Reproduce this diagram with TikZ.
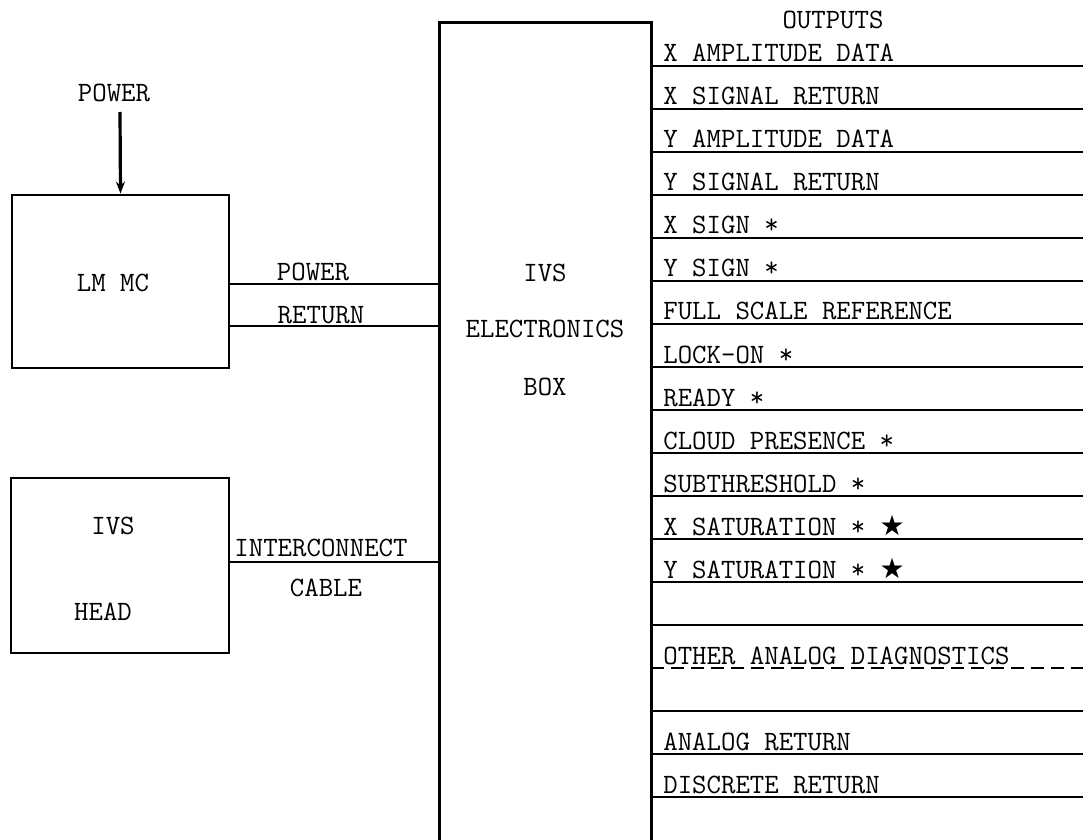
\documentclass[tikz,border=0pt]{standalone}
\usepackage{fontspec}
\newfontfamily\starfont{DejaVu Sans}
\usetikzlibrary{arrows.meta}
\tikzset{
  blk/.style={draw,line width=1.4pt,inner sep=0pt},
  txt/.style={inner sep=0pt,font=\ttfamily\fontsize{14}{16}\selectfont},
  sig/.style={txt,anchor=base west},
  wire/.style={line width=1pt},
  arr/.style={line width=1.6pt,-{Stealth[length=6pt,width=4.5pt]}}
}
\begin{document}
\begin{tikzpicture}[x=0.5pt,y=-0.5pt]
  \useasboundingbox (0,0) rectangle (1083,840);
  % boxes
  \node[blk,minimum width=108.5pt,minimum height=86.5pt] (lmmc) at (120.5,281.5) {};
  \node[blk,minimum width=109pt,minimum height=87.5pt] (head) at (120,565.5) {};
  \node[inner sep=0pt,minimum width=105.5pt,minimum height=408.5pt] (ebox) at (545.5,431.5) {};
  \draw[line width=1.4pt] (ebox.south west) |- (ebox.north east) -- (ebox.south east);
  \node[txt] (lmmctxt) at (113,283) {LM MC};
  \node[txt] (headtop) at (113,526) {IVS};
  \node[txt] (headbot) at (103,612) {HEAD};
  \node[txt] (eboxa) at (545,273) {IVS};
  \node[txt] (eboxb) at (545,329) {ELECTRONICS};
  \node[txt] (eboxc) at (545,387) {BOX};
  % power in
  \node[txt] (pwrtxt) at (114,93) {POWER};
  \coordinate (pwrtop) at (120,112);
  \draw[arr] (pwrtop) -- (lmmc.north);
  % left connections
  \coordinate (pwrin) at (440,284);
  \coordinate (retin) at (440,326);
  \coordinate (cblin) at (440,562);
  \draw[wire] (lmmc.east |- pwrin) -- (pwrin);
  \draw[wire] (lmmc.east |- retin) -- (retin);
  \draw[wire] (head.east |- cblin) -- (cblin);
  \node[txt] (pwrlbl) at (313,272) {POWER};
  \node[txt] (retlbl) at (321,315) {RETURN};
  \node[txt] (cbla) at (321,548) {INTERCONNECT};
  \node[txt] (cblb) at (326,588) {CABLE};
  % outputs
  \node[txt] (outtxt) at (833,20) {OUTPUTS};
  \foreach \k in {0,...,17}{
    \coordinate (r\k) at (1083,66+43*\k);
  }
  \foreach \k in {0,...,13,15,16,17}{
    \draw[wire] (ebox.east |- r\k) -- (r\k);
  }
  \draw[wire,dash pattern=on 6.5pt off 3.5pt] (ebox.east |- r14) -- (r14);
  \foreach \k/\t in {0/X AMPLITUDE DATA,1/X SIGNAL RETURN,2/Y AMPLITUDE DATA,
      3/Y SIGNAL RETURN,4/X SIGN *,5/Y SIGN *,6/FULL SCALE REFERENCE,
      7/LOCK-ON *,8/READY *,9/CLOUD PRESENCE *,10/SUBTHRESHOLD *,
      11/X SATURATION * {\starfont ★},12/Y SATURATION * {\starfont ★},
      14/OTHER ANALOG DIAGNOSTICS,16/ANALOG RETURN,17/DISCRETE RETURN}{
    \node[sig] (o\k) at (663,62+43*\k) {\t};
  }
\end{tikzpicture}
\end{document}
